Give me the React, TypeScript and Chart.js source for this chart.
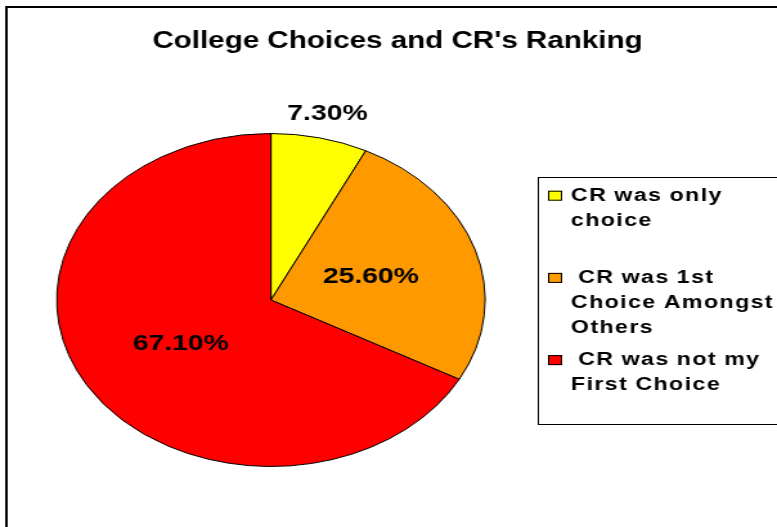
import { useEffect, useRef } from "react";
import { Chart, registerables } from "chart.js";

Chart.register(...registerables);

const title = "College Choices and CR's Ranking";
const categories: string[][] = [
  ["CR was only", "choice"],
  [" CR was 1st", "Choice Amongst", "Others"],
  [" CR was not my", "First Choice"],
];
const values = [7.3, 25.6, 67.1];
const valueLabels = ["7.30%", "25.60%", "67.10%"];
const colors = ["#FFFF00", "#FF9900", "#FF0000"];

// styling / layout (canvas units; the canvas is stretched horizontally like the reference)
const W = 604;
const H = 527;
const CSS_W = 777;
const FONT = '"Liberation Sans", Arial, sans-serif';
const labelRadius = [1.16, 0.49, 0.49];

const decorPlugin = {
  id: "decor",
  beforeDraw(chart: any) {
    const ctx: CanvasRenderingContext2D = chart.ctx;
    ctx.save();
    ctx.fillStyle = "#ffffff";
    ctx.fillRect(0, 0, W, H);
    // outer frame
    ctx.strokeStyle = "#000";
    ctx.lineWidth = 2;
    ctx.beginPath();
    ctx.moveTo(5, H + 5);
    ctx.lineTo(5, 7);
    ctx.lineTo(W + 5, 7);
    ctx.stroke();
    // title
    ctx.fillStyle = "#000";
    ctx.font = `bold 23px ${FONT}`;
    ctx.textAlign = "center";
    ctx.textBaseline = "alphabetic";
    ctx.fillText(title, 309, 48);
    // legend box
    ctx.lineWidth = 1;
    ctx.strokeStyle = "#000";
    ctx.strokeRect(418.5, 177.5, 300, 247);
    const ds = chart.data.datasets[0];
    const labels = chart.data.labels as string[][];
    ctx.textAlign = "left";
    ctx.font = `bold 18px ${FONT}`;
    (ctx as any).letterSpacing = "1.1px";
    (ctx as any).wordSpacing = "-0.5px";
    labels.forEach((lines, i) => {
      const base = 200.7 + i * 82.2;
      ctx.fillStyle = ds.backgroundColor[i];
      ctx.fillRect(426, base - 10, 11, 10);
      ctx.strokeStyle = "#000";
      ctx.strokeRect(426.5, base - 9.5, 10, 9);
      ctx.fillStyle = "#000";
      lines.forEach((ln, j) => {
        ctx.fillText(ln, 443.8, base + j * 25);
      });
    });
    (ctx as any).letterSpacing = "0px";
    (ctx as any).wordSpacing = "0px";
    ctx.restore();
  },
  afterDatasetsDraw(chart: any) {
    const ctx: CanvasRenderingContext2D = chart.ctx;
    const meta = chart.getDatasetMeta(0);
    ctx.save();
    ctx.fillStyle = "#000";
    ctx.font = `bold 22px ${FONT}`;
    ctx.textAlign = "center";
    ctx.textBaseline = "alphabetic";
    meta.data.forEach((el: any, i: number) => {
      const p = el.getProps(["x", "y", "startAngle", "endAngle", "outerRadius"], true);
      const mid = (p.startAngle + p.endAngle) / 2;
      const r = p.outerRadius * labelRadius[i];
      const x = p.x + Math.cos(mid) * r;
      const y = p.y + Math.sin(mid) * r;
      ctx.fillText(valueLabels[i], x, y + 8);
    });
    ctx.restore();
  },
};

export default function App() {
  const ref = useRef<HTMLCanvasElement>(null);
  useEffect(() => {
    if (!ref.current) return;
    const chart = new Chart(ref.current, {
      type: "pie",
      data: {
        labels: categories as any,
        datasets: [
          {
            data: values,
            backgroundColor: colors,
            borderColor: "#000",
            borderWidth: 1,
          },
        ],
      },
      options: {
        responsive: false,
        animation: false,
        events: [],
        layout: { padding: { left: 43.6, right: 226.4, top: 133, bottom: 60 } },
        plugins: {
          legend: { display: false },
          title: { display: false },
          tooltip: { enabled: false },
        },
      },
      plugins: [decorPlugin],
    });
    return () => chart.destroy();
  }, []);
  return (
    <div style={{ position: "fixed", left: 0, top: 0, width: CSS_W, height: H, background: "#fff" }}>
      <canvas
        ref={ref}
        width={W}
        height={H}
        style={{ width: `${CSS_W}px`, height: `${H}px`, display: "block" }}
      />
    </div>
  );
}
